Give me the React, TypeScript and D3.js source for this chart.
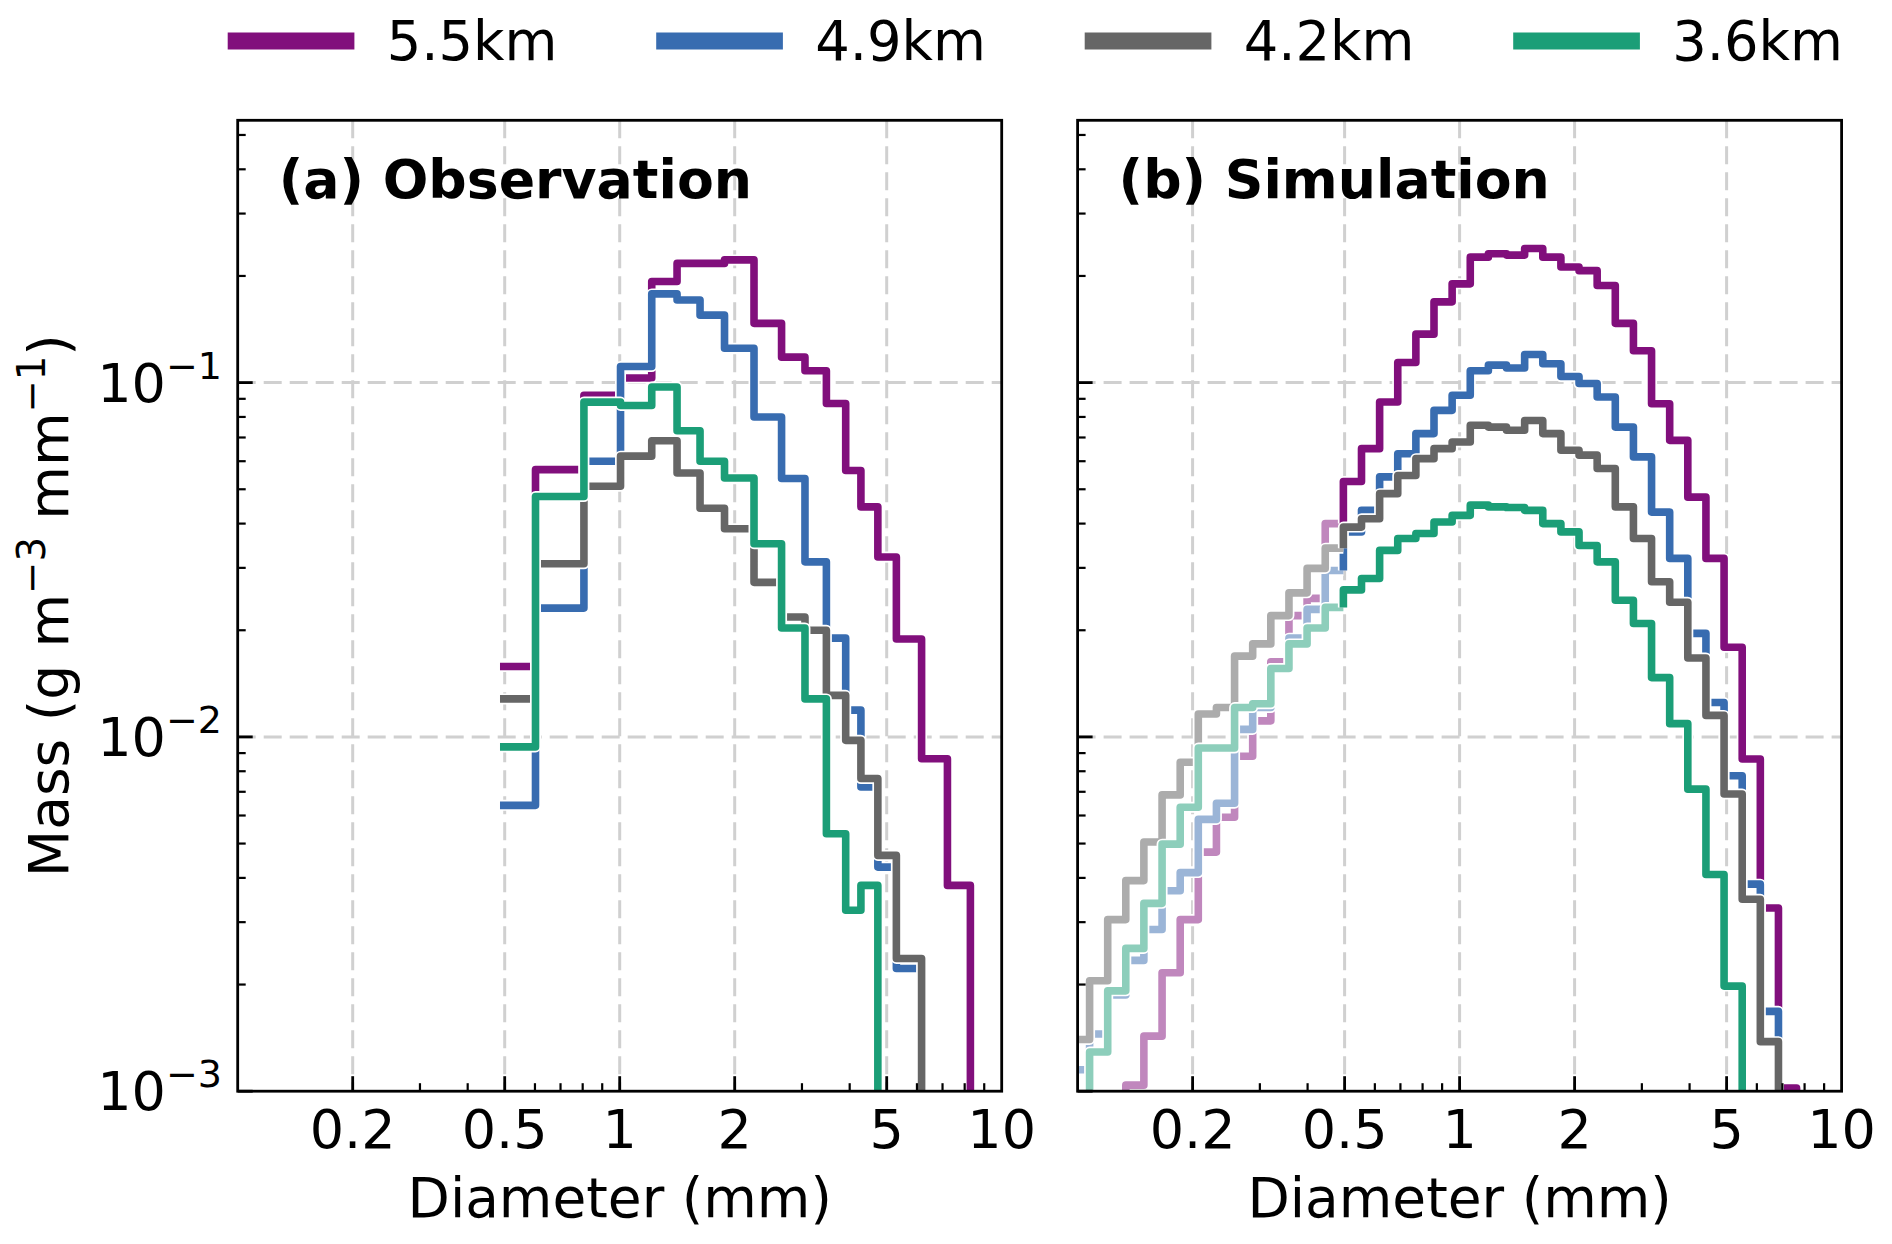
import * as d3 from "d3";
import { useEffect, useRef } from "react";

// series names and colours
const HEIGHTS = ["5.5km", "4.9km", "4.2km", "3.6km"];
const COLORS = ["#810f7c", "#386cb0", "#666666", "#1b9e77"];
const LIGHT = ["#c087bd", "#9bb5d7", "#acacac", "#8dcebb"]; // same colours at alpha 0.5

// (a) observation: bin edges (mm) and mass per bin (g m-3 mm-1), 0 = below axis
const OBS_EDGES = [0.486, 0.602, 0.806, 1.005, 1.213, 1.413, 1.623, 1.881, 2.247, 2.653, 3.055, 3.476, 3.905, 4.28, 4.74, 5.3, 6.17, 7.21, 8.28, 9.5];
const OBS_55 = [0.0158, 0.0568, 0.0921, 0.103, 0.193, 0.217, 0.217, 0.222, 0.147, 0.118, 0.108, 0.0873, 0.0565, 0.0446, 0.0322, 0.0189, 0.00868, 0.00381, 0];
const OBS_49 = [0.00641, 0.0231, 0.06, 0.111, 0.178, 0.171, 0.155, 0.125, 0.08, 0.0536, 0.0312, 0.019, 0.0119, 0.00722, 0.00429, 0.00222, 0, 0, 0];
const OBS_42 = [0.0128, 0.0308, 0.051, 0.062, 0.0685, 0.0556, 0.0442, 0.0387, 0.0273, 0.0218, 0.02, 0.0131, 0.00978, 0.00763, 0.00463, 0.00237, 0, 0, 0];
const OBS_36 = [0.00937, 0.0477, 0.0881, 0.0862, 0.0972, 0.0731, 0.06, 0.0538, 0.0351, 0.0203, 0.0128, 0.00533, 0.00324, 0.00381, 0, 0, 0, 0, 0];

// (b) simulation: bin edges (mm); first 15 bins (< 0.5 mm) are drawn faded
const SIM_EDGES = [0.0963, 0.1075, 0.1199, 0.1337, 0.1491, 0.1664, 0.1856, 0.207, 0.2309, 0.2576, 0.2873, 0.3205, 0.3575, 0.3988, 0.4449, 0.4963, 0.5536, 0.6175, 0.6888, 0.7683, 0.857, 0.956, 1.0664, 1.1895, 1.3269, 1.4801, 1.651, 1.8416, 2.0543, 2.2915, 2.5561, 2.8513, 3.1805, 3.5478, 3.9574, 4.4144, 4.9242, 5.4928, 6.1271, 6.8346, 7.6238, 8.504];
const SIM_55 = [0, 0, 0, 0.00104, 0.00143, 0.00216, 0.00305, 0.00473, 0.00593, 0.00882, 0.0111, 0.0163, 0.022, 0.0246, 0.04,
  0.0526, 0.0651, 0.0882, 0.114, 0.137, 0.169, 0.19, 0.226, 0.231, 0.229, 0.239, 0.226, 0.212, 0.207, 0.188, 0.147, 0.123, 0.0872, 0.0687, 0.0475, 0.0319, 0.0179, 0.00866, 0.00329, 0.00102, 0];
const SIM_49 = [0.00115, 0.00145, 0.00187, 0.00234, 0.00286, 0.00368, 0.00414, 0.00585, 0.0065, 0.0105, 0.0121, 0.0156, 0.019, 0.0229, 0.0295,
  0.0379, 0.0436, 0.0542, 0.063, 0.0718, 0.0835, 0.0921, 0.108, 0.112, 0.11, 0.12, 0.113, 0.104, 0.0994, 0.0911, 0.0749, 0.0617, 0.0431, 0.0319, 0.0196, 0.0125, 0.00777, 0.00384, 0.00168, 0, 0];
const SIM_42 = [0.0014, 0.00205, 0.00305, 0.00393, 0.00505, 0.00686, 0.00848, 0.0116, 0.0121, 0.0169, 0.0183, 0.022, 0.0255, 0.0299, 0.0341,
  0.0391, 0.0413, 0.0486, 0.0547, 0.061, 0.0651, 0.068, 0.0758, 0.0749, 0.0734, 0.0782, 0.0718, 0.0644, 0.0624, 0.0572, 0.0446, 0.0363, 0.0274, 0.024, 0.0167, 0.0115, 0.0069, 0.00348, 0.00138, 0, 0];
const SIM_36 = [0, 0.00129, 0.00192, 0.00253, 0.00339, 0.00498, 0.00633, 0.0093, 0.0093, 0.0121, 0.0124, 0.0156, 0.0183, 0.0203, 0.0232,
  0.026, 0.028, 0.0336, 0.0363, 0.0375, 0.0404, 0.0422, 0.0451, 0.0446, 0.0444, 0.0436, 0.04, 0.0379, 0.0347, 0.0312, 0.0243, 0.0209, 0.0147, 0.0109, 0.00712, 0.00409, 0.00198, 0, 0, 0, 0];

const X_TICKS = [0.2, 0.5, 1, 2, 5, 10];
const X_TICK_LABELS = ["0.2", "0.5", "1", "2", "5", "10"];
const X_MINOR = [0.3, 0.4, 0.6, 0.7, 0.8, 0.9, 3, 4, 6, 7, 8, 9];
const Y_TICKS = [0.1, 0.01, 0.001];
const Y_TICK_EXP = ["\u22121", "\u22122", "\u22123"];

const PANELS = [
  { title: "(a) Observation", left: 237.7, edges: OBS_EDGES, series: [OBS_55, OBS_49, OBS_42, OBS_36], split: 0 },
  { title: "(b) Simulation", left: 1077.6, edges: SIM_EDGES, series: [SIM_55, SIM_49, SIM_42, SIM_36], split: 15 },
];

const FONT = "DejaVu Sans";

export default function App() {
  const ref = useRef<SVGSVGElement | null>(null);
  useEffect(() => {
    if (!ref.current) return;
    const svg = d3.select(ref.current);
    svg.selectAll("*").remove();
    const top = 120.3, bottom = 1091.2, width = 764;
    const y = d3.scaleLog().domain([1e-3, 0.55]).range([bottom, top]);
    const yy = (v: number) => (v > 0 ? y(v) : bottom + 40);

    PANELS.forEach((p, pi) => {
      const x = d3.scaleLog().domain([0.1, 10]).range([p.left, p.left + width]);
      const g = svg.append("g");
      g.append("clipPath").attr("id", `clip${pi}`)
        .append("rect").attr("x", p.left).attr("y", top).attr("width", width).attr("height", bottom - top);

      // grid
      const grid = g.append("g").attr("stroke", "#d0d0d0").attr("stroke-width", 3).attr("stroke-dasharray", "18 8");
      grid.selectAll("line.v").data(X_TICKS.slice(0, 5)).join("line")
        .attr("x1", (d) => x(d)).attr("x2", (d) => x(d)).attr("y1", top).attr("y2", bottom);
      grid.selectAll("line.h").data(Y_TICKS.slice(0, 2)).join("line")
        .attr("x1", p.left).attr("x2", p.left + width).attr("y1", (d) => y(d)).attr("y2", (d) => y(d));

      // step lines
      const line = d3.line<[number, number]>().x((d) => x(d[0])).y((d) => yy(d[1]));
      const steps = (vals: number[], from: number, to: number, lead: boolean) => {
        const pts: [number, number][] = [];
        if (lead && from > 0) pts.push([p.edges[from], vals[from - 1]]);
        for (let i = from; i < to; i++) {
          pts.push([p.edges[i], vals[i]]);
          pts.push([p.edges[i + 1], vals[i]]);
        }
        return pts;
      };
      const lines = g.append("g").attr("clip-path", `url(#clip${pi})`).attr("fill", "none")
        .attr("stroke-linejoin", "round");
      p.series.forEach((vals, si) => {
        const parts = p.split > 0
          ? [{ from: 0, to: p.split, color: LIGHT[si], lead: false }, { from: p.split, to: vals.length, color: COLORS[si], lead: true }]
          : [{ from: 0, to: vals.length, color: COLORS[si], lead: false }];
        parts.forEach((part) => {
          const d = line(steps(vals, part.from, part.to, part.lead)) || "";
          lines.append("path").attr("d", d).attr("stroke", "#fff").attr("stroke-width", 11);
          lines.append("path").attr("d", d).attr("stroke", part.color).attr("stroke-width", 7.6);
        });
      });

      // ticks (inward)
      const ticks = g.append("g").attr("stroke", "#000");
      ticks.selectAll("line.xM").data(X_TICKS.slice(0, 5)).join("line")
        .attr("x1", (d) => x(d)).attr("x2", (d) => x(d)).attr("y1", bottom).attr("y2", bottom - 15).attr("stroke-width", 2.8);
      ticks.selectAll("line.xm").data(X_MINOR).join("line")
        .attr("x1", (d) => x(d)).attr("x2", (d) => x(d)).attr("y1", bottom).attr("y2", bottom - 8).attr("stroke-width", 2.2);
      const yMinor: number[] = [];
      [0.001, 0.01, 0.1].forEach((b) => d3.range(2, 10).forEach((k) => { if (b * k <= 0.55) yMinor.push(b * k); }));
      ticks.selectAll("line.yM").data(Y_TICKS).join("line")
        .attr("x1", p.left).attr("x2", p.left + 15).attr("y1", (d) => y(d)).attr("y2", (d) => y(d)).attr("stroke-width", 2.8);
      ticks.selectAll("line.ym").data(yMinor).join("line")
        .attr("x1", p.left).attr("x2", p.left + 8).attr("y1", (d) => y(d)).attr("y2", (d) => y(d)).attr("stroke-width", 2.2);

      // frame
      g.append("rect").attr("x", p.left).attr("y", top).attr("width", width).attr("height", bottom - top)
        .attr("fill", "none").attr("stroke", "#000").attr("stroke-width", 2.8);

      // x tick labels and label
      g.append("g").attr("font-family", FONT).attr("font-size", 54).attr("text-anchor", "middle")
        .selectAll("text").data(X_TICKS).join("text")
        .attr("x", (d) => x(d)).attr("y", 1148).text((d, i) => X_TICK_LABELS[i]);
      g.append("text").attr("x", p.left + width / 2).attr("y", 1217).attr("text-anchor", "middle")
        .attr("font-family", FONT).attr("font-size", 55).text("Diameter (mm)");

      // panel title
      g.append("text").attr("x", p.left + 41).attr("y", 198).attr("font-family", FONT)
        .attr("font-size", 53.7).attr("font-weight", "bold").text(p.title);

      if (pi === 0) {
        const yl = g.append("g").attr("font-family", FONT).attr("text-anchor", "end");
        Y_TICKS.forEach((v, i) => {
          const t = yl.append("text").attr("x", 222).attr("y", y(v) + 19).attr("font-size", 54);
          t.append("tspan").text("10");
          t.append("tspan").attr("font-size", 38).attr("dy", -23).text(Y_TICK_EXP[i]);
        });
        const lab = g.append("text").attr("transform", `translate(68,${(top + bottom) / 2}) rotate(-90)`)
          .attr("text-anchor", "middle").attr("font-family", FONT).attr("font-size", 55);
        lab.append("tspan").text("Mass (g m");
        lab.append("tspan").attr("font-size", 38.5).attr("dy", -23).text("\u22123");
        lab.append("tspan").attr("dy", 23).text(" mm");
        lab.append("tspan").attr("font-size", 38.5).attr("dy", -23).text("\u22121");
        lab.append("tspan").attr("dy", 23).text(")");
      }
    });

    // legend
    const leg = svg.append("g").attr("font-family", FONT).attr("font-size", 54.3);
    HEIGHTS.forEach((h, i) => {
      const x0 = 227.7 + 428.5 * i;
      leg.append("line").attr("x1", x0).attr("x2", x0 + 126.7).attr("y1", 41).attr("y2", 41)
        .attr("stroke", COLORS[i]).attr("stroke-width", 17);
      leg.append("text").attr("x", x0 + 159).attr("y", 60).text(h);
    });
  }, []);
  return (
    <svg ref={ref} width={1892} height={1244}
      style={{ position: "absolute", left: 0, top: 0, background: "#fff" }} />
  );
}
